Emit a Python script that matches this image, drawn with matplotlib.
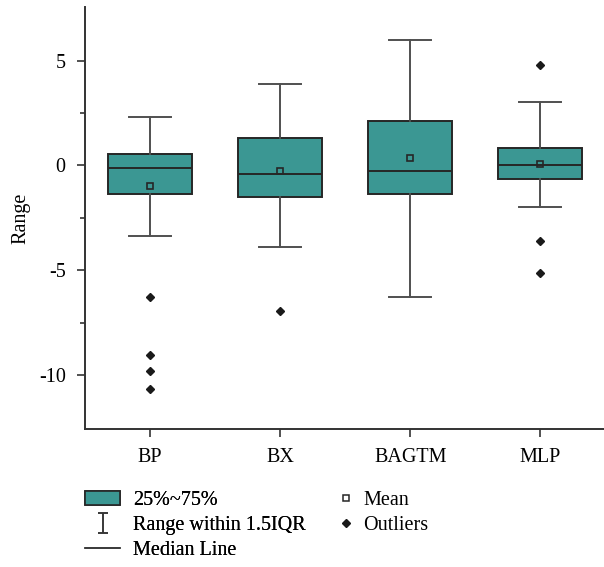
import matplotlib
matplotlib.use("Agg")
import matplotlib.pyplot as plt
from matplotlib.lines import Line2D
from matplotlib.patches import Patch
from matplotlib.path import Path

plt.rcParams['font.family'] = ['Liberation Serif', 'DejaVu Serif']

# data
labels = ["BP", "BX", "BAGTM", "MLP"]
q1 = [-1.35, -1.49, -1.36, -0.62]
med = [-0.12, -0.40, -0.24, 0.0]
q3 = [0.56, 1.30, 2.10, 0.83]
whislo = [-3.36, -3.90, -6.27, -2.0]
whishi = [2.29, 3.89, 5.98, 3.03]
means = [-1.0, -0.25, 0.35, 0.07]
fliers = [[-6.25, -9.03, -9.79, -10.65], [-6.92], [], [4.80, -3.60, -5.14]]

BOX = "#3b9793"
EDGE = "#262626"
WHISK = "#505050"
FS = 14.5

stats = []
for i, lab in enumerate(labels):
    stats.append(dict(label=lab, q1=q1[i], med=med[i], q3=q3[i],
                      whislo=whislo[i], whishi=whishi[i],
                      mean=means[i], fliers=fliers[i]))

fig = plt.figure(figsize=(6.04, 5.67), dpi=100)
ax = fig.add_axes([0.141, 0.2434, 0.861, 0.7443])

ax.bxp(stats, positions=range(1, 5), widths=0.65, showmeans=True,
       patch_artist=True,
       boxprops=dict(facecolor=BOX, edgecolor=EDGE, linewidth=1.4),
       medianprops=dict(color=EDGE, linewidth=1.4),
       whiskerprops=dict(color=WHISK, linewidth=1.4),
       capprops=dict(color=WHISK, linewidth=1.4),
       capwidths=0.32,
       meanprops=dict(marker="s", markerfacecolor="none",
                      markeredgecolor=EDGE, markersize=5, markeredgewidth=1.2),
       flierprops=dict(marker="D", markerfacecolor="#1a1a1a",
                       markeredgecolor="#1a1a1a", markersize=4))

ax.set_xlim(0.5, 4.5)
ax.set_ylim(-12.55, 7.55)
ax.set_yticks([-10, -5, 0, 5])
ax.set_yticklabels(["-10", "-5", "0", "5"])
ax.set_yticks([-7.5, -2.5, 2.5], minor=True)
ax.set_xticks(range(1, 5))
ax.set_xticklabels(labels)
ax.tick_params(axis="both", which="major", labelsize=FS, length=6,
               width=1.2, color="#333333", pad=8)
ax.tick_params(axis="y", which="minor", length=3.5, width=1.2, color="#333333")
for s in ["top", "right"]:
    ax.spines[s].set_visible(False)
for s in ["left", "bottom"]:
    ax.spines[s].set_color("#333333")
    ax.spines[s].set_linewidth(1.4)
ax.set_ylabel("Range", fontsize=FS, labelpad=6)

# legend: two blocks so each column gets its own handle length
ibeam = Path([(-0.5, 1), (0.5, 1), (0, 1), (0, -1), (-0.5, -1), (0.5, -1)],
             [Path.MOVETO, Path.LINETO, Path.MOVETO, Path.LINETO,
              Path.MOVETO, Path.LINETO])
h_left = [
    Patch(facecolor=BOX, edgecolor=EDGE, linewidth=1.2),
    Line2D([], [], linestyle="none", marker=ibeam, markersize=15,
           markeredgecolor="#333333", markeredgewidth=1.1),
    Line2D([], [], color="#333333", linewidth=1.1),
]
n_left = ["25%~75%", "Range within 1.5IQR", "Median Line"]
h_right = [
    Line2D([], [], linestyle="none", marker="s", markerfacecolor="none",
           markeredgecolor=EDGE, markersize=5, markeredgewidth=1.1),
    Line2D([], [], linestyle="none", marker="D", color="#1a1a1a", markersize=4),
]
n_right = ["Mean", "Outliers"]

top = 1 - 491 / 567
leg1 = fig.legend(h_left, n_left, loc="upper left",
                  bbox_to_anchor=(85 / 604, top), frameon=False, fontsize=FS,
                  handlelength=1.75, handletextpad=0.65, labelspacing=0.3,
                  borderpad=0, borderaxespad=0)
leg2 = fig.legend(h_right, n_right, loc="upper left",
                  bbox_to_anchor=(338 / 604, top), frameon=False, fontsize=FS,
                  handlelength=0.8, handletextpad=0.45, labelspacing=0.3,
                  borderpad=0, borderaxespad=0)
fig.add_artist(leg1)

fig.savefig("out.png", dpi=100, facecolor="white")
